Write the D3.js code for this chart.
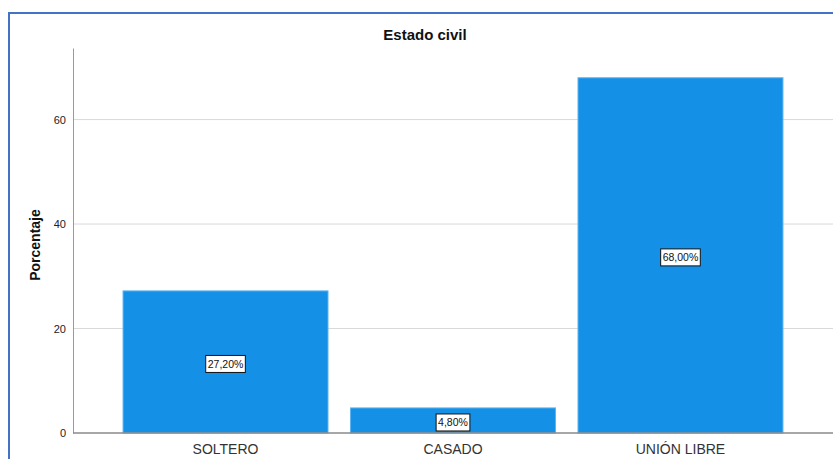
<!DOCTYPE html>
<html>
<head>
<meta charset="utf-8">
<script src="https://cdn.jsdelivr.net/npm/d3@7"></script>
<style>
  body { margin: 0; background: #fff; }
  svg { font-family: "Liberation Sans", Arial, sans-serif; }
</style>
</head>
<body>
<svg width="833" height="459"></svg>
<script>
var categories = ["SOLTERO", "CASADO", "UNIÓN LIBRE"];
var percentages = [27.2, 4.8, 68.0];
var yTicks = [0, 20, 40, 60];

var svg = d3.select("svg");

// frame around the chart
svg.append("path")
  .attr("d", "M9,459 V13 H833")
  .attr("fill", "none")
  .attr("stroke", "#4472c4")
  .attr("stroke-width", 2);

var x = d3.scaleBand()
  .domain(categories)
  .range([73, 833])
  .paddingInner(0.099)
  .paddingOuter(0.22);

var y = d3.scaleLinear()
  .domain([0, 73.7])
  .range([433, 48]);

// gridlines
svg.append("g")
  .selectAll("line")
  .data(yTicks.filter(d => d > 0))
  .enter()
  .append("line")
    .attr("x1", 73)
    .attr("x2", 833)
    .attr("y1", d => y(d))
    .attr("y2", d => y(d))
    .attr("stroke", "#d9d9d9")
    .attr("stroke-width", 1);

// y axis
var yAxis = svg.append("g")
  .attr("transform", "translate(73,0)")
  .call(d3.axisLeft(y).tickValues(yTicks).tickSize(0).tickPadding(7));
yAxis.select(".domain").attr("stroke", "#9a9a9a");
yAxis.selectAll("text")
  .attr("font-size", 11)
  .attr("fill", "#222")
  .style("font-family", "Liberation Sans, Arial, sans-serif");

// bars
svg.append("g")
  .selectAll("rect")
  .data(categories)
  .enter()
  .append("rect")
    .attr("x", d => x(d))
    .attr("width", x.bandwidth())
    .attr("y", (d, i) => y(percentages[i]))
    .attr("height", (d, i) => y(0) - y(percentages[i]))
    .attr("fill", "#1491e6")
    .attr("stroke", "#5fb3f0")
    .attr("stroke-width", 1);

// baseline
svg.append("line")
  .attr("x1", 73)
  .attr("x2", 833)
  .attr("y1", y(0))
  .attr("y2", y(0))
  .attr("stroke", "#8a8a8a")
  .attr("stroke-width", 1.5);

// category labels
svg.append("g")
  .selectAll("text")
  .data(categories)
  .enter()
  .append("text")
    .attr("x", d => x(d) + x.bandwidth() / 2)
    .attr("y", 454)
    .attr("text-anchor", "middle")
    .attr("font-size", 14)
    .attr("fill", "#333")
    .text(d => d);

// value labels in boxes
var fmt = v => v.toFixed(2).replace(".", ",") + "%";
var labels = svg.append("g")
  .selectAll("g")
  .data(categories)
  .enter()
  .append("g")
    .attr("transform", (d, i) =>
      `translate(${x(d) + x.bandwidth() / 2},${(y(0) + y(percentages[i])) / 2 + 2})`);

labels.append("text")
  .attr("text-anchor", "middle")
  .attr("dy", "0.35em")
  .attr("font-size", 10.5)
  .attr("fill", "#111")
  .text((d, i) => fmt(percentages[i]));

labels.each(function() {
  var g = d3.select(this);
  var b = g.select("text").node().getBBox();
  g.insert("rect", "text")
    .attr("x", b.x - 2)
    .attr("y", -8.5)
    .attr("width", b.width + 4)
    .attr("height", 17)
    .attr("fill", "#fff")
    .attr("stroke", "#111")
    .attr("stroke-width", 1);
});

// title
svg.append("text")
  .attr("x", 425)
  .attr("y", 40)
  .attr("text-anchor", "middle")
  .attr("font-size", 15)
  .attr("font-weight", "bold")
  .attr("fill", "#111")
  .text("Estado civil");

// y axis title
svg.append("text")
  .attr("transform", "translate(40,245) rotate(-90)")
  .attr("text-anchor", "middle")
  .attr("font-size", 14)
  .attr("font-weight", "bold")
  .attr("fill", "#111")
  .text("Porcentaje");
</script>
</body>
</html>
